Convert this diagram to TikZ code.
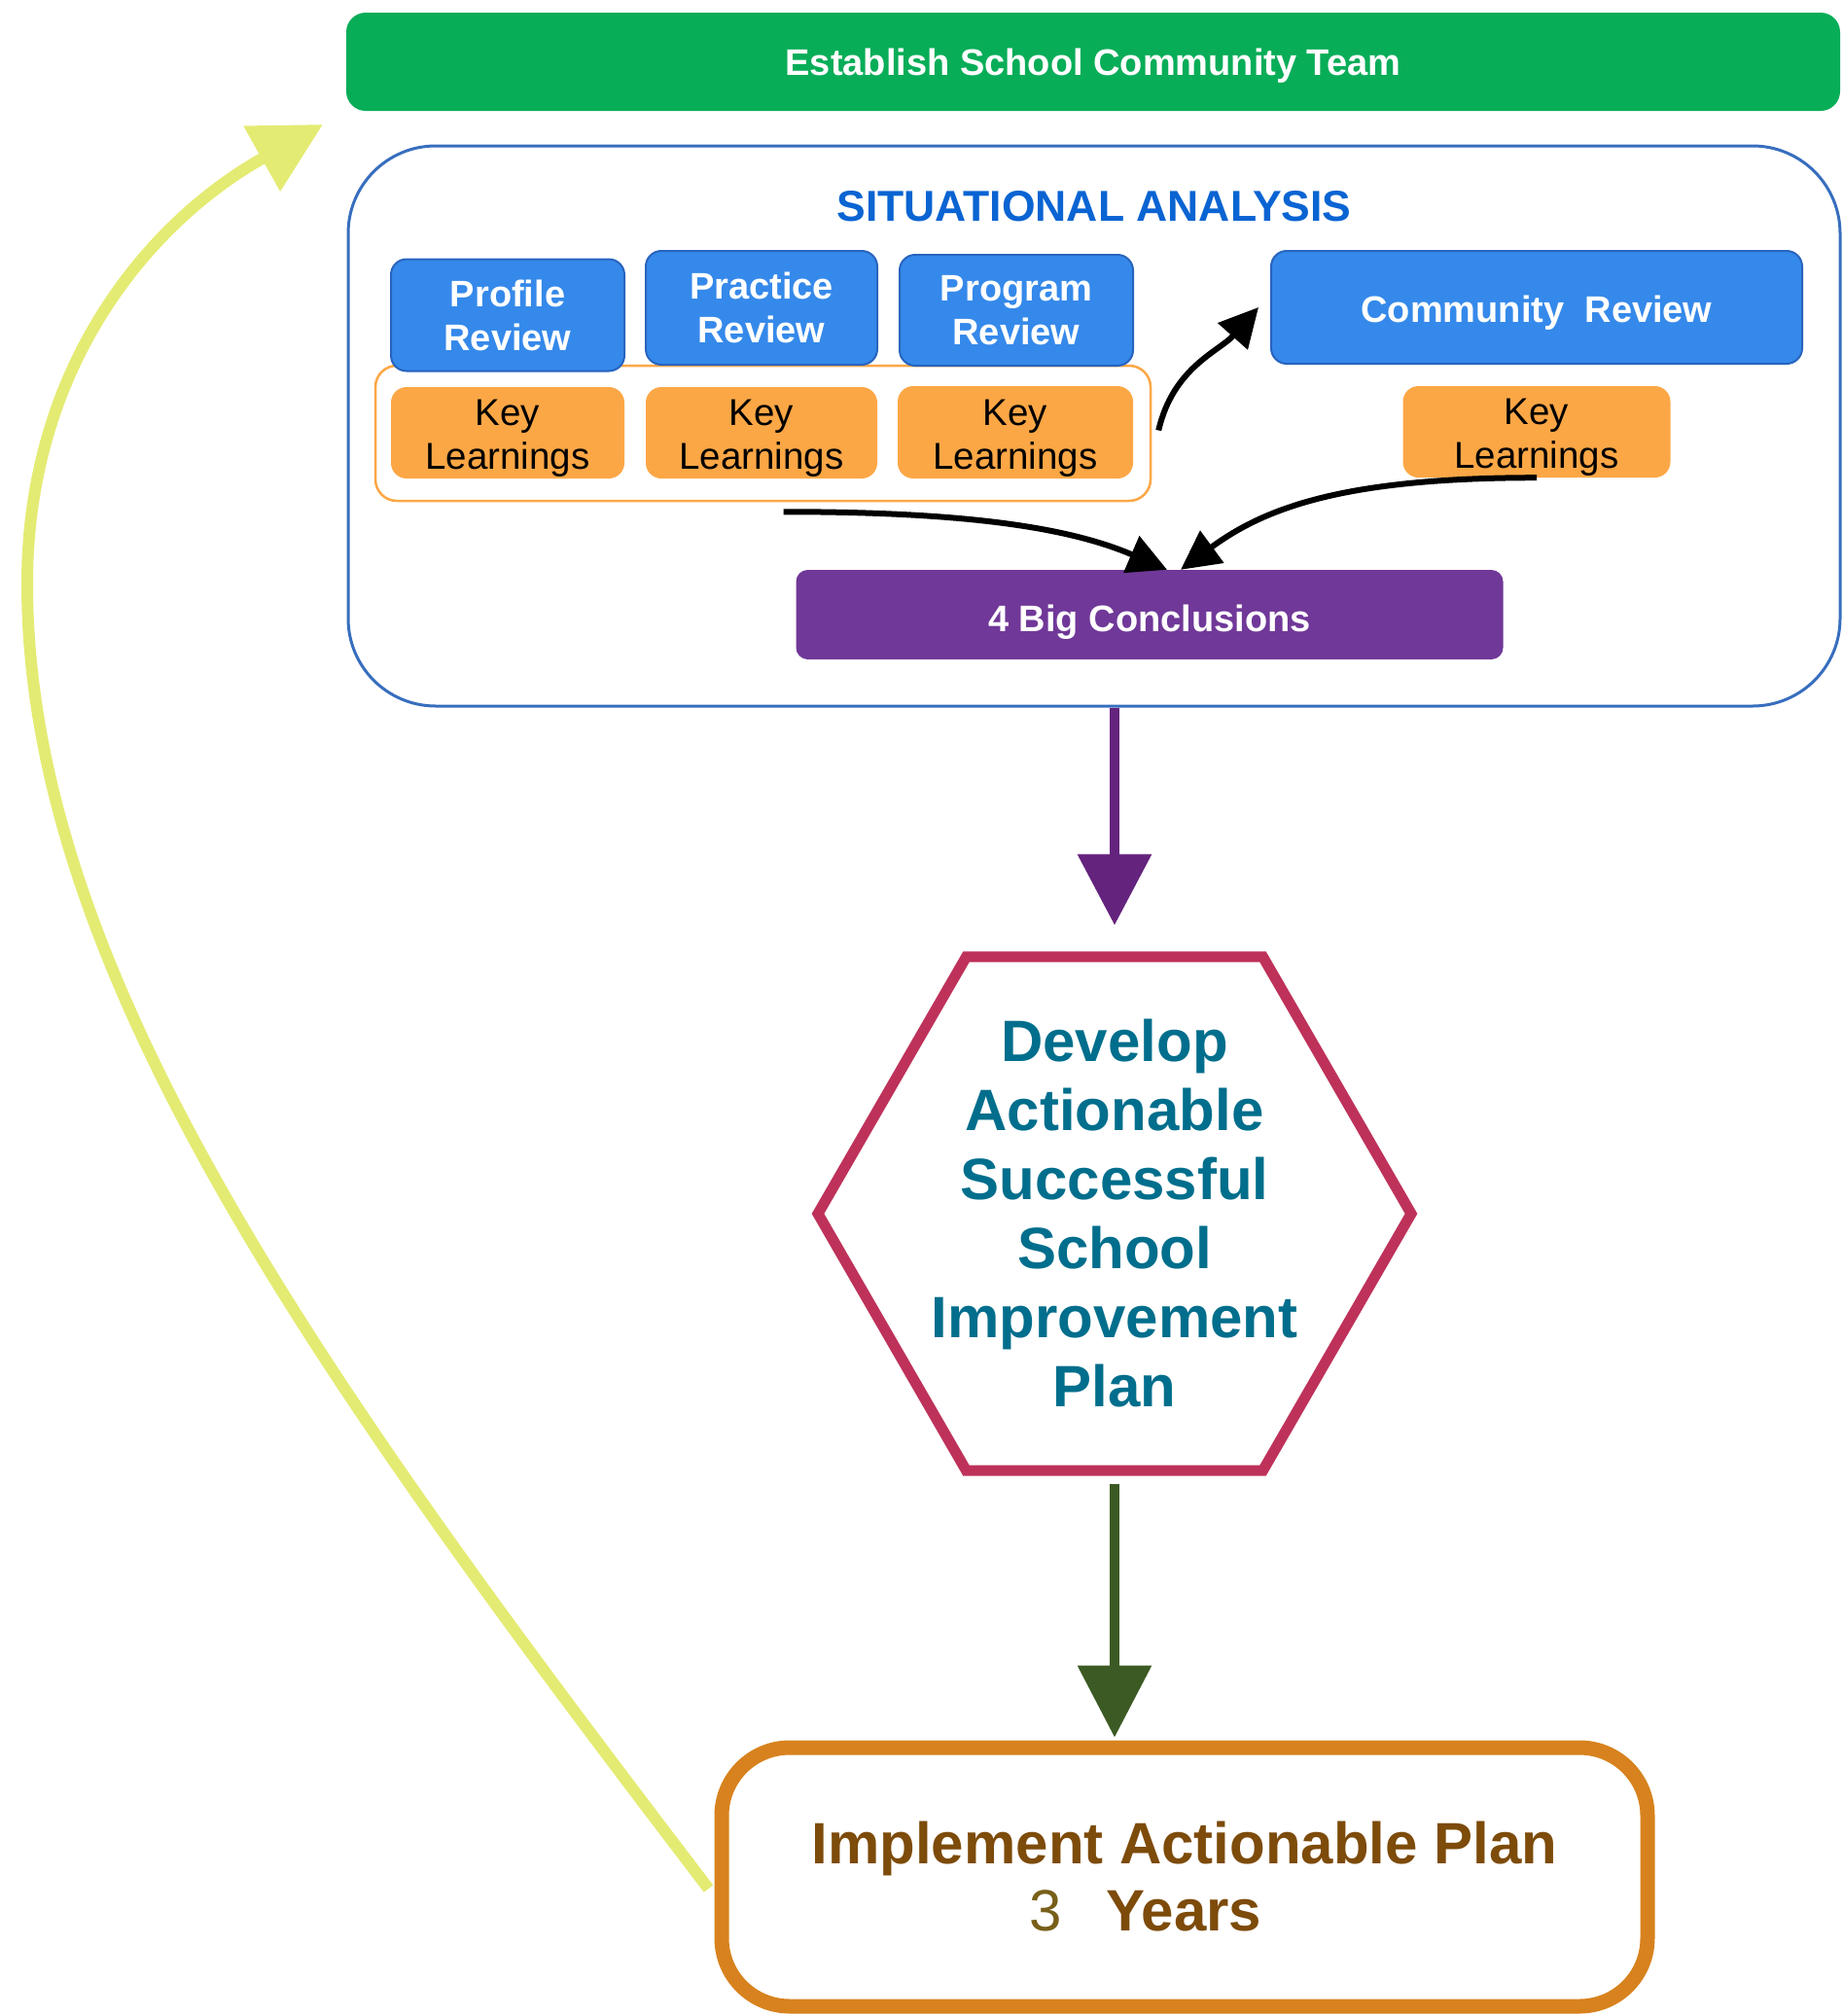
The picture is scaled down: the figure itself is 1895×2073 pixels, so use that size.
\documentclass[tikz,border=0pt]{standalone}
\usepackage{fontspec}
\setmainfont{Liberation Sans}
\usetikzlibrary{arrows.meta,shapes.geometric}

\definecolor{teamgreen}{RGB}{8,173,88}
\definecolor{boxblue}{RGB}{53,137,234}
\definecolor{boxblueline}{RGB}{40,100,190}
\definecolor{frameblue}{RGB}{55,110,190}
\definecolor{titleblue}{RGB}{10,100,210}
\definecolor{klorange}{RGB}{252,167,70}
\definecolor{conpurple}{RGB}{112,56,152}
\definecolor{arrowpurple}{RGB}{100,35,125}
\definecolor{hexred}{RGB}{190,50,90}
\definecolor{hexteal}{RGB}{0,110,140}
\definecolor{arrowgreen}{RGB}{60,90,35}
\definecolor{implorange}{RGB}{215,130,30}
\definecolor{implbrown}{RGB}{125,75,10}
\definecolor{threeolive}{RGB}{120,95,25}
\definecolor{loopyellow}{RGB}{228,235,115}

\begin{document}
\begin{tikzpicture}[x=1pt,y=-1pt,
  teambar/.style={fill=teamgreen, rounded corners=20pt, inner sep=0pt,
    minimum width=1536pt, minimum height=101pt, text=white,
    text height=28pt, text depth=0pt,
    font=\bfseries\fontsize{38}{46}\selectfont},
  saframe/.style={draw=frameblue, line width=3pt, rounded corners=90pt,
    minimum width=1534pt, minimum height=576pt, inner sep=0pt},
  satitle/.style={text=titleblue, font=\bfseries\fontsize{44.5}{50}\selectfont, inner sep=0pt},
  reviewbox/.style={fill=boxblue, draw=boxblueline, line width=2pt, rounded corners=16pt,
    inner sep=0pt, align=center, text=white,
    font=\bfseries\fontsize{38}{45}\selectfont},
  klbox/.style={fill=klorange, rounded corners=16pt, inner sep=0pt, align=center,
    text=black, text height=75pt, text depth=0pt,
    font=\fontsize{38.5}{45}\selectfont},
  klgroup/.style={draw=klorange, line width=2.5pt, rounded corners=22pt, inner sep=0pt},
  conbox/.style={fill=conpurple, rounded corners=12pt, inner sep=0pt,
    minimum width=727pt, minimum height=92pt, text=white,
    text height=34pt, text depth=0pt,
    font=\bfseries\fontsize{38}{45}\selectfont},
  hexshape/.style={regular polygon, regular polygon sides=6, minimum size=610pt,
    inner sep=0pt, draw=hexred, line width=11pt, fill=white},
  hextxt/.style={text=hexteal, align=center, inner sep=0pt,
    font=\bfseries\fontsize{60}{71}\selectfont},
  implbox/.style={draw=implorange, line width=15pt, rounded corners=70pt,
    minimum width=952pt, minimum height=266pt, inner sep=0pt, align=center,
    text=implbrown, font=\bfseries\fontsize{60}{69}\selectfont},
  blackarrow/.style={draw=black, line width=6pt, -{Triangle[length=40pt,width=40pt]}},
  purplearrow/.style={draw=arrowpurple, line width=10pt, -{Triangle[length=73pt,width=74pt]}},
  greenarrow/.style={draw=arrowgreen, line width=10pt, -{Triangle[length=74pt,width=74pt]}},
  looparrow/.style={draw=loopyellow, line width=12pt, -{Triangle[length=72pt,width=74pt]}}
]
\useasboundingbox (0,0) rectangle (1895,2073);

% top bar
\node[teambar] (team) at (1124,63.5) {Establish School Community Team};

% situational analysis frame
\node[saframe] (sa) at (1125,438) {};
\node[satitle] (satitle) at (1125,212) {SITUATIONAL ANALYSIS};

% key learnings group
\node[klgroup, minimum width=797pt, minimum height=139pt] (kgrp) at (784.5,445.5) {};
\node[klbox, minimum width=240pt, minimum height=94pt] (kl1) at (522,445) {Key\\Learnings};
\node[klbox, minimum width=238pt, minimum height=94pt] (kl2) at (783,445) {Key\\Learnings};
\node[klbox, minimum width=242pt, minimum height=95pt] (kl3) at (1044,444.5) {Key\\Learnings};
\node[klbox, minimum width=275pt, minimum height=94pt] (kl4) at (1580,444) {Key\\Learnings};

% review boxes
\node[reviewbox, minimum width=240pt, minimum height=115pt] (profile) at (522,324) {Profile\\Review};
\node[reviewbox, minimum width=238pt, minimum height=117pt] (practice) at (783,316.5) {Practice\\Review};
\node[reviewbox, minimum width=240pt, minimum height=114pt] (program) at (1045,319) {Program\\Review};
\node[reviewbox, minimum width=546pt, minimum height=116pt, text height=30pt, text depth=0pt] (community) at (1580,316) {Community\ \ Review};

% conclusions
\node[conbox] (con) at (1182,632) {4 Big Conclusions};

% hexagon
\node[hexshape] (hex) at (1146,1248) {};
\node[hextxt] (hextext) at (hex.center) {Develop\\Actionable\\Successful\\School\\Improvement\\Plan};

% implement
\node[implbox] (impl) at (1218,1930) {Implement Actionable Plan\\{\color{threeolive}\mdseries 3}\hspace{45pt}Years\makebox[80pt]{}};

% black arrows
\draw[blackarrow] ([shift={(7,-3)}]kgrp.east) .. controls +(15,-65) and +(-40,45) .. ([xshift=-12pt]community.west);
\draw[blackarrow] ([shift={(21,10)}]kgrp.south) .. controls +(190,0) and +(-100,-43) .. ([xshift=18pt]con.north);
\draw[blackarrow] (kl4.south) .. controls +(-200,0) and +(86,-63) .. ([xshift=32pt]con.north);

% vertical arrows
\draw[purplearrow, shorten >=27pt] (hex.north |- sa.south) -- (hex.north);
\draw[greenarrow, shorten <=8pt, shorten >=3pt] (hex.south) -- (hex.south |- impl.north);

% yellow loop
\coordinate (loopend) at (332,128);
\draw[looparrow] ([shift={(-6,12)}]impl.west) .. controls (330,1420) and (28,1000) .. (28,600)
  .. controls (28,380) and (150,230) .. (loopend);
\end{tikzpicture}
\end{document}
